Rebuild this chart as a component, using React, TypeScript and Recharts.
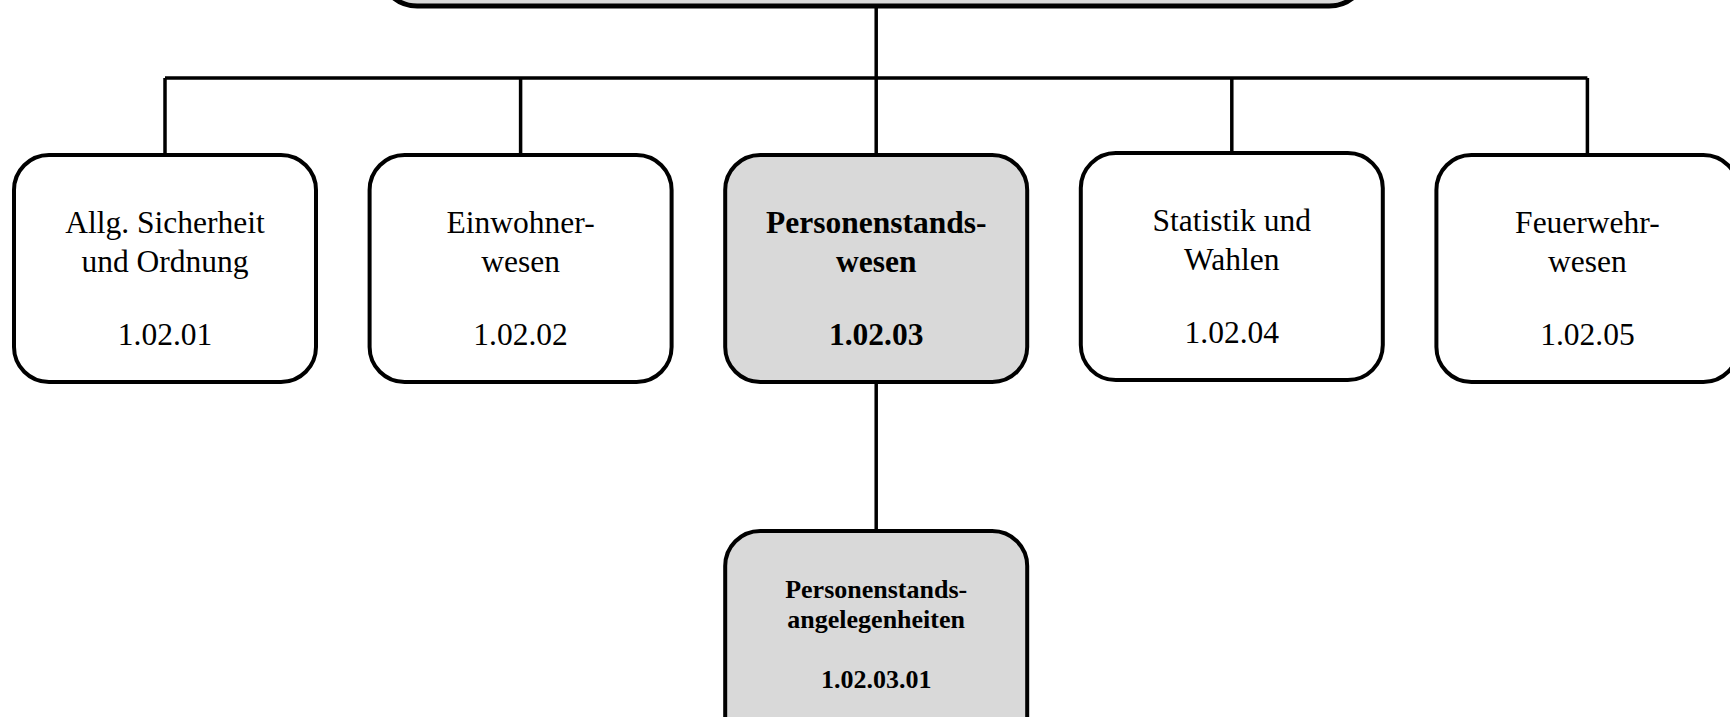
// Org chart of the unit 1.02 and its sub units, drawn as a scatter chart with boxes as shapes
import { ReferenceLine, Scatter, ScatterChart, XAxis, YAxis } from "recharts";

const nodeIds = ["amt", "u1", "u2", "u3", "u4", "u5", "u31"];
const nodeTitles: string[][] = [
  [],
  ["Allg. Sicherheit", "und Ordnung"],
  ["Einwohner-", "wesen"],
  ["Personenstands-", "wesen"],
  ["Statistik und", "Wahlen"],
  ["Feuerwehr-", "wesen"],
  ["Personenstands-", "angelegenheiten"],
];
const nodeCodes = ["", "1.02.01", "1.02.02", "1.02.03", "1.02.04", "1.02.05", "1.02.03.01"];
const nodeColumns = [2, 0, 1, 2, 3, 4, 2];
const nodeLevels = [0, 1, 1, 1, 0.995, 1, 2];
const nodeParents = [null, "amt", "amt", "amt", "amt", "amt", "u3"];
const highlighted = ["amt", "u3", "u31"];

const W = 1730;
const H = 717;
// layout: column spacing and level spacing in pixels
const COL_PX = 355.6;
const COL0_PX = 165;
const LEVEL_PX = 376;
const LEVEL0_PX = -107.5;
const BOX_W = 302;
const BOX_H = 227;
const HALF_H = BOX_H / 2 / LEVEL_PX;
const BUS = 185.5 / LEVEL_PX;

const nodes = nodeIds.map((id, i) => ({
  id,
  title: nodeTitles[i],
  code: nodeCodes[i],
  col: nodeColumns[i],
  level: nodeLevels[i],
  parent: nodeParents[i],
  hi: highlighted.includes(id),
}));

// connector segments built from the parent/child relations
const segments: { x1: number; y1: number; x2: number; y2: number }[] = [];
nodes.forEach((p) => {
  const kids = nodes.filter((n) => n.parent === p.id);
  if (!kids.length) return;
  const busY = p.level + BUS;
  segments.push({ x1: p.col, y1: p.level + HALF_H, x2: p.col, y2: busY });
  const cols = kids.map((k) => k.col);
  if (Math.min(...cols) !== Math.max(...cols)) {
    segments.push({ x1: Math.min(...cols), y1: busY, x2: Math.max(...cols), y2: busY });
  }
  kids.forEach((k) => {
    segments.push({ x1: k.col, y1: busY, x2: k.col, y2: k.level - HALF_H });
  });
});

function NodeBox(props: any) {
  const { cx, cy, payload } = props;
  if (cx == null || cy == null || !payload) return null;
  const isRoot = payload.level === 0;
  const isSub = payload.level >= 2;
  const w = isRoot ? 988 : BOX_W;
  const top = cy - BOX_H / 2;
  const fs = isSub ? 26 : 31.5;
  const weight = payload.hi ? "bold" : "normal";
  const base = isSub ? [67, 97, 157] : [78, 117, 190];
  return (
    <g>
      <rect
        x={cx - w / 2 - 3}
        y={top}
        width={w}
        height={BOX_H}
        rx={isRoot ? 38 : 35}
        fill={payload.hi ? "#d9d9d9" : "#ffffff"}
        stroke="#000"
        strokeWidth={isRoot ? 5 : 4}
        transform={isRoot ? undefined : "translate(3,0)"}
      />
      {payload.title.map((t: string, i: number) => (
        <text
          key={i}
          x={cx}
          y={top + base[i]}
          textAnchor="middle"
          fontFamily="'Liberation Serif', 'Times New Roman', serif"
          fontSize={fs}
          fontWeight={weight}
          fill="#000"
        >
          {t}
        </text>
      ))}
      {payload.code && (
        <text
          x={cx}
          y={top + base[2]}
          textAnchor="middle"
          fontFamily="'Liberation Serif', 'Times New Roman', serif"
          fontSize={fs}
          fontWeight={weight}
          fill="#000"
        >
          {payload.code}
        </text>
      )}
    </g>
  );
}

export default function App() {
  return (
    <div style={{ position: "absolute", left: 0, top: 0, background: "#fff" }}>
      <ScatterChart width={W} height={H} margin={{ top: 0, right: 0, bottom: 0, left: 0 }}>
        <XAxis
          type="number"
          dataKey="col"
          domain={[-COL0_PX / COL_PX, (W - COL0_PX) / COL_PX]}
          allowDataOverflow
          hide
        />
        <YAxis
          type="number"
          dataKey="level"
          domain={[-LEVEL0_PX / LEVEL_PX, (H - LEVEL0_PX) / LEVEL_PX]}
          reversed
          allowDataOverflow
          hide
        />
        {segments.map((s, i) => (
          <ReferenceLine
            key={i}
            segment={[
              { x: s.x1, y: s.y1 },
              { x: s.x2, y: s.y2 },
            ]}
            stroke="#000"
            strokeWidth={3.5}
            ifOverflow="visible"
          />
        ))}
        <Scatter data={nodes} shape={NodeBox} isAnimationActive={false} />
      </ScatterChart>
    </div>
  );
}
